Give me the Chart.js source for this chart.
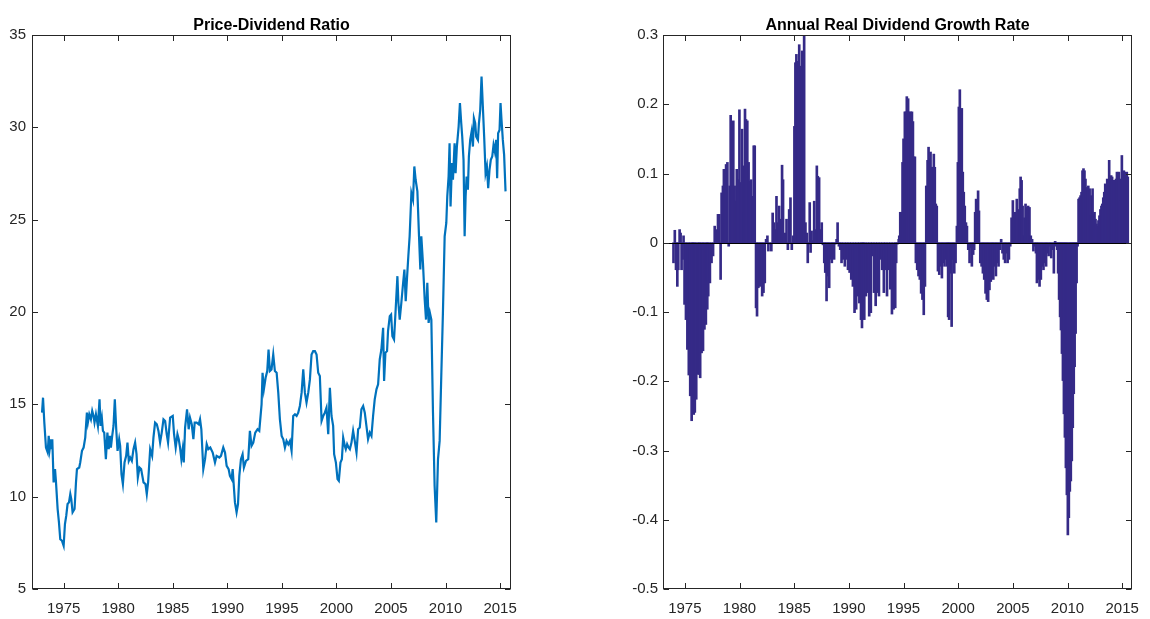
<!DOCTYPE html>
<html><head><meta charset="utf-8">
<script src="https://cdn.jsdelivr.net/npm/chart.js@4.4.1/dist/chart.umd.min.js"></script>
<style>
html,body{margin:0;padding:0;background:#fff;width:1150px;height:619px;overflow:hidden}
canvas{position:absolute;top:0}
#c1{left:0}
#c2{left:575px}
</style></head><body>
<canvas id="c1" width="575" height="619"></canvas>
<canvas id="c2" width="575" height="619"></canvas>
<script>
// ---------- DATA ----------
const pdTitle = 'Price-Dividend Ratio';
const growthTitle = 'Annual Real Dividend Growth Rate';
const yearTicks = [1975, 1980, 1985, 1990, 1995, 2000, 2005, 2010, 2015];
const pdTicks = [5, 10, 15, 20, 25, 30, 35];
const growthTicks = [-0.5, -0.4, -0.3, -0.2, -0.1, 0, 0.1, 0.2, 0.3];

const pdYears = [
1973.02,1973.11,1973.23,1973.38,1973.54,1973.63,1973.72,1973.84,1973.90,1973.96,
1974.08,1974.21,1974.30,1974.45,1974.57,1974.69,1974.85,1975.00,1975.12,1975.24,
1975.36,1975.49,1975.61,1975.70,1975.82,1976.00,1976.13,1976.22,1976.43,1976.52,
1976.68,1976.83,1976.98,1977.13,1977.22,1977.35,1977.50,1977.62,1977.74,1977.83,
1977.96,1978.14,1978.29,1978.38,1978.50,1978.60,1978.72,1978.87,1979.01,1979.13,
1979.24,1979.33,1979.45,1979.57,1979.69,1979.82,1979.94,1980.09,1980.18,1980.30,
1980.43,1980.58,1980.73,1980.85,1980.97,1981.10,1981.25,1981.40,1981.55,1981.68,
1981.80,1981.95,1982.10,1982.32,1982.50,1982.62,1982.74,1982.93,1983.11,1983.23,
1983.38,1983.54,1983.69,1983.84,1983.99,1984.15,1984.30,1984.45,1984.57,1984.76,
1985.00,1985.12,1985.27,1985.43,1985.55,1985.67,1985.79,1985.91,1986.01,1986.13,
1986.31,1986.46,1986.58,1986.74,1986.89,1987.01,1987.19,1987.38,1987.50,1987.62,
1987.80,1987.96,1988.11,1988.26,1988.44,1988.66,1988.87,1989.02,1989.27,1989.42,
1989.63,1989.79,1989.94,1990.12,1990.24,1990.40,1990.49,1990.70,1990.85,1990.98,
1991.10,1991.25,1991.40,1991.52,1991.71,1991.92,1992.07,1992.22,1992.38,1992.56,
1992.77,1992.93,1993.14,1993.23,1993.35,1993.51,1993.66,1993.78,1993.90,1994.05,
1994.21,1994.36,1994.52,1994.67,1994.82,1994.98,1995.13,1995.28,1995.43,1995.59,
1995.74,1995.89,1996.04,1996.20,1996.35,1996.50,1996.65,1996.81,1996.96,1997.11,
1997.26,1997.42,1997.57,1997.72,1997.87,1998.03,1998.18,1998.33,1998.48,1998.64,
1998.79,1998.94,1999.09,1999.25,1999.40,1999.55,1999.70,1999.79,1999.95,2000.10,
2000.22,2000.37,2000.50,2000.62,2000.77,2000.86,2000.98,2001.11,2001.23,2001.38,
2001.53,2001.68,2001.84,2001.99,2002.14,2002.29,2002.45,2002.60,2002.75,2002.90,
2003.06,2003.21,2003.36,2003.51,2003.67,2003.82,2003.97,2004.12,2004.28,2004.37,
2004.49,2004.64,2004.73,2004.89,2005.01,2005.13,2005.28,2005.43,2005.59,2005.68,
2005.80,2005.95,2006.10,2006.23,2006.35,2006.47,2006.59,2006.71,2006.87,2007.02,
2007.14,2007.26,2007.42,2007.57,2007.69,2007.78,2007.93,2008.09,2008.21,2008.33,
2008.45,2008.57,2008.70,2008.85,2009.00,2009.15,2009.31,2009.46,2009.61,2009.76,
2009.92,2010.07,2010.16,2010.28,2010.37,2010.46,2010.59,2010.68,2010.83,2010.92,
2011.04,2011.20,2011.32,2011.44,2011.53,2011.65,2011.75,2011.84,2011.93,2012.05,
2012.14,2012.26,2012.39,2012.51,2012.60,2012.72,2012.81,2012.97,2013.06,2013.18,
2013.30,2013.42,2013.54,2013.67,2013.79,2013.91,2014.03,2014.15,2014.28,2014.40,
2014.52,2014.64,2014.73,2014.82,2014.95,2015.04,2015.13,2015.25,2015.37,2015.50
];
const pdValues = [
14.55,15.36,14.01,12.66,12.39,13.29,12.57,13.11,12.57,13.11,
10.77,11.49,10.77,9.33,8.61,7.70,7.61,7.34,8.52,8.97,
9.60,9.69,10.14,9.87,9.15,9.33,10.77,11.49,11.58,11.85,
12.48,12.66,13.20,14.55,14.01,14.46,14.19,14.64,14.37,14.01,
14.46,13.83,15.27,13.83,14.28,13.56,13.47,12.03,13.47,12.57,
13.29,12.66,13.29,13.83,15.27,13.65,12.48,13.11,12.75,11.22,
10.68,11.85,12.21,12.93,11.94,12.12,11.94,12.57,12.93,12.30,
11.04,11.58,11.49,10.77,10.68,10.14,10.77,12.57,12.21,13.20,
14.01,13.92,13.56,12.93,13.47,14.19,14.10,13.38,12.93,14.28,
14.37,13.38,12.66,13.38,13.11,12.66,12.03,12.57,11.85,13.74,
14.73,13.65,14.28,13.92,13.11,14.01,14.01,13.92,14.19,13.65,
11.49,12.03,12.84,12.57,12.66,12.39,11.85,12.21,12.12,12.21,
12.66,12.39,11.67,11.49,11.13,10.95,11.49,9.69,9.15,9.60,
11.13,12.03,12.30,11.58,11.94,12.03,13.56,12.75,12.93,13.47,
13.65,13.56,15.00,16.71,15.81,16.44,16.80,17.97,16.80,16.89,
17.70,16.80,16.71,15.63,14.19,13.29,13.11,12.66,13.02,12.84,
13.02,12.48,14.37,14.46,14.37,14.55,14.91,15.63,16.89,15.63,
15.09,15.63,16.35,17.70,17.88,17.88,17.70,16.71,16.53,14.10,
14.37,14.55,14.82,13.38,15.90,14.37,13.83,12.30,11.85,10.95,
10.86,11.85,12.03,13.20,12.75,12.57,12.84,12.66,12.57,12.93,
13.56,13.02,12.39,13.65,13.74,14.73,14.91,14.55,13.83,13.11,
13.47,13.29,14.37,15.27,15.81,16.08,17.43,17.97,19.14,16.26,
17.79,17.88,18.96,19.77,19.86,18.69,18.51,20.14,21.94,20.50,
19.59,20.50,21.49,22.30,20.59,21.85,23.02,24.10,26.44,26.08,
27.88,27.16,26.53,24.10,22.30,24.10,22.66,20.68,19.59,21.58,
19.41,19.95,19.59,14.55,10.58,8.60,12.03,13.02,16.53,19.95,
24.10,24.82,26.26,27.34,29.14,25.72,28.06,27.16,29.14,27.52,
28.96,30.04,31.31,30.22,29.50,28.24,24.10,26.26,27.34,26.62,
28.42,29.32,29.77,28.96,30.49,30.22,29.50,29.32,30.22,30.95,
32.75,31.13,29.50,27.52,27.88,26.71,27.70,28.24,28.42,29.05,
28.69,29.32,27.25,29.68,29.86,31.31,30.41,29.32,28.51,26.53
];

const growthYears = [
1973.96,1974.08,1974.19,1974.31,1974.40,1974.52,1974.61,1974.70,1974.79,1974.88,
1974.97,1975.10,1975.23,1975.36,1975.49,1975.62,1975.71,1975.81,1975.91,1976.04,
1976.17,1976.30,1976.40,1976.53,1976.66,1976.79,1976.92,1977.05,1977.14,1977.29,
1977.44,1977.58,1977.73,1977.88,1978.03,1978.15,1978.27,1978.36,1978.48,1978.57,
1978.68,1978.77,1978.89,1979.01,1979.10,1979.19,1979.31,1979.43,1979.55,1979.67,
1979.75,1979.87,1979.99,1980.11,1980.23,1980.35,1980.41,1980.50,1980.59,1980.71,
1980.83,1980.94,1981.06,1981.18,1981.30,1981.39,1981.51,1981.60,1981.72,1981.84,
1981.95,1982.07,1982.19,1982.31,1982.43,1982.55,1982.64,1982.76,1982.91,1983.03,
1983.15,1983.26,1983.38,1983.50,1983.62,1983.74,1983.89,1983.98,1984.07,1984.19,
1984.30,1984.42,1984.54,1984.66,1984.78,1984.90,1985.02,1985.11,1985.20,1985.29,
1985.37,1985.46,1985.55,1985.64,1985.73,1985.82,1985.91,1986.03,1986.15,1986.24,
1986.33,1986.42,1986.50,1986.59,1986.71,1986.83,1986.95,1987.07,1987.16,1987.28,
1987.40,1987.52,1987.63,1987.75,1987.84,1987.96,1988.08,1988.20,1988.32,1988.44,
1988.53,1988.65,1988.76,1988.88,1988.97,1989.09,1989.21,1989.33,1989.48,1989.63,
1989.78,1989.92,1990.07,1990.22,1990.37,1990.52,1990.67,1990.82,1990.96,1991.11,
1991.20,1991.32,1991.41,1991.56,1991.71,1991.86,1992.01,1992.15,1992.30,1992.45,
1992.60,1992.75,1992.90,1993.05,1993.20,1993.34,1993.49,1993.64,1993.79,1993.94,
1994.09,1994.24,1994.33,1994.44,1994.56,1994.61,1994.70,1994.82,1994.91,1995.00,
1995.12,1995.21,1995.30,1995.42,1995.51,1995.65,1995.77,1995.86,1995.95,1996.04,
1996.13,1996.25,1996.37,1996.49,1996.61,1996.73,1996.85,1996.96,1997.08,1997.20,
1997.29,1997.38,1997.47,1997.56,1997.68,1997.77,1997.86,1997.95,1998.04,1998.15,
1998.27,1998.39,1998.51,1998.63,1998.75,1998.87,1998.99,1999.08,1999.17,1999.29,
1999.40,1999.52,1999.64,1999.76,1999.88,1999.97,2000.06,2000.15,2000.24,2000.33,
2000.42,2000.51,2000.60,2000.71,2000.80,2000.92,2001.04,2001.16,2001.25,2001.37,
2001.46,2001.55,2001.64,2001.73,2001.82,2001.90,2002.02,2002.14,2002.26,2002.38,
2002.50,2002.62,2002.74,2002.86,2002.98,2003.10,2003.21,2003.33,2003.45,2003.57,
2003.69,2003.81,2003.93,2004.05,2004.17,2004.29,2004.40,2004.52,2004.64,2004.76,
2004.88,2005.00,2005.09,2005.18,2005.27,2005.36,2005.45,2005.54,2005.63,2005.71,
2005.80,2005.89,2005.98,2006.07,2006.16,2006.28,2006.40,2006.52,2006.64,2006.76,
2006.88,2006.99,2007.11,2007.20,2007.32,2007.44,2007.56,2007.68,2007.80,2007.92,
2008.04,2008.15,2008.27,2008.39,2008.51,2008.63,2008.75,2008.87,2008.96,2009.05,
2009.14,2009.23,2009.32,2009.40,2009.49,2009.58,2009.67,2009.76,2009.85,2009.94,
2010.03,2010.12,2010.21,2010.30,2010.39,2010.48,2010.57,2010.65,2010.74,2010.83,
2010.92,2011.01,2011.10,2011.19,2011.28,2011.37,2011.46,2011.55,2011.64,2011.73,
2011.82,2011.90,2012.02,2012.11,2012.20,2012.29,2012.38,2012.47,2012.56,2012.65,
2012.74,2012.83,2012.92,2013.01,2013.10,2013.18,2013.27,2013.36,2013.45,2013.54,
2013.63,2013.72,2013.81,2013.90,2013.99,2014.08,2014.17,2014.26,2014.35,2014.43,
2014.52,2014.61,2014.70,2014.79,2014.88,2014.97,2015.06,2015.15,2015.24,2015.33,
2015.42,2015.51
];
const growthValues = [
-0.029,0.018,-0.039,-0.063,-0.039,0.019,0.014,-0.039,-0.024,0.010,
-0.089,-0.111,-0.154,-0.191,-0.221,-0.257,-0.233,-0.248,-0.245,-0.226,
-0.190,-0.190,-0.195,-0.159,-0.156,-0.125,-0.118,-0.096,-0.077,-0.058,
-0.029,-0.019,0.024,0.019,0.041,0.041,-0.053,0.072,0.082,0.106,
0.082,0.113,0.116,-0.005,0.082,0.184,0.082,0.176,0.082,0.060,
0.106,0.091,0.192,0.087,0.164,0.111,0.043,0.193,0.178,0.176,
0.116,0.089,0.091,0.067,0.140,0.140,-0.094,-0.106,-0.065,-0.063,
-0.051,-0.077,-0.072,-0.058,0.005,0.010,-0.012,-0.002,-0.012,0.043,
0.029,0.019,0.067,0.029,0.053,0.034,0.112,0.091,0.007,0.014,
0.034,-0.010,0.048,0.065,-0.010,0.010,0.168,0.260,0.272,0.212,
0.262,0.286,0.241,0.255,0.277,0.270,0.300,0.029,0.014,-0.029,
-0.002,0.058,-0.014,0.017,0.003,0.060,0.019,0.111,0.096,0.094,
0.019,0.029,-0.003,-0.029,-0.043,-0.084,-0.048,-0.065,-0.024,-0.029,
-0.019,-0.024,-0.002,0.005,0.029,-0.005,-0.010,-0.029,-0.024,-0.034,
-0.024,-0.039,-0.043,-0.053,-0.063,-0.101,-0.096,-0.077,-0.087,-0.111,
-0.123,-0.101,-0.111,-0.077,-0.072,-0.106,-0.101,-0.019,-0.072,-0.091,
-0.072,-0.077,-0.024,-0.039,-0.072,-0.039,-0.077,-0.039,-0.067,-0.103,
-0.096,-0.094,-0.029,-0.002,0.005,0.010,0.044,0.044,0.116,0.150,
0.189,0.189,0.211,0.208,0.189,0.189,0.189,0.175,0.124,0.124,
-0.029,-0.039,-0.048,-0.053,-0.073,-0.082,-0.104,-0.063,0.082,0.119,
0.138,0.121,0.131,0.109,0.109,0.128,0.109,0.056,0.053,-0.041,
-0.046,-0.034,-0.051,-0.029,-0.034,-0.024,-0.034,-0.107,-0.111,-0.044,
-0.121,-0.024,-0.044,-0.029,0.024,0.116,0.196,0.221,0.191,0.194,
0.102,0.073,0.053,0.029,0.024,-0.010,-0.029,-0.007,-0.034,-0.017,
-0.010,0.044,0.063,0.041,0.075,0.046,-0.029,-0.034,-0.044,-0.053,
-0.073,-0.082,-0.085,-0.068,-0.056,-0.044,-0.053,-0.034,-0.048,-0.029,
-0.034,-0.010,0.005,-0.015,-0.024,-0.029,-0.015,-0.029,-0.024,-0.005,
0.036,0.061,0.036,0.044,0.034,0.063,0.048,0.039,0.078,0.095,
0.090,0.053,0.010,0.036,0.056,0.051,0.053,0.051,0.010,0.005,
-0.012,-0.005,-0.015,-0.058,-0.053,-0.063,-0.053,-0.034,-0.039,-0.029,
-0.034,-0.015,-0.019,-0.005,-0.022,-0.010,-0.044,0.002,-0.005,-0.010,
-0.044,-0.082,-0.107,-0.126,-0.160,-0.199,-0.247,-0.281,-0.325,-0.364,
-0.422,-0.397,-0.359,-0.344,-0.315,-0.267,-0.218,-0.179,-0.131,-0.058,
-0.005,0.063,0.065,0.068,0.073,0.104,0.107,0.104,0.092,0.078,
0.080,0.082,0.078,0.039,0.068,0.078,0.041,0.044,0.034,0.027,
0.024,0.032,0.039,0.048,0.053,0.056,0.065,0.073,0.085,0.082,
0.092,0.082,0.119,0.092,0.097,0.095,0.090,0.090,0.090,0.092,
0.102,0.095,0.102,0.061,0.092,0.126,0.102,0.104,0.102,0.099,
0.102,0.095
];

// ---------- STYLE ----------
const FONT = '"Liberation Sans Narrow", "Liberation Sans", Arial, sans-serif';
const AXIS_COLOR = '#262626';

const matlabAxes = {
  id: 'matlabAxes',
  afterDatasetsDraw(chart, args, opts) {
    const { ctx, chartArea: a, scales: { x, y } } = chart;
    ctx.save();
    if (opts.baseline) {
      const y0 = Math.round(y.getPixelForValue(0)) + 0.5;
      ctx.strokeStyle = '#000';
      ctx.lineWidth = 1;
      ctx.beginPath(); ctx.moveTo(a.left, y0); ctx.lineTo(a.right, y0); ctx.stroke();
    }
    const L = Math.round(a.left) + 0.5, R = Math.round(a.right) - 0.5;
    const T = Math.round(a.top) + 0.5, B = Math.round(a.bottom) - 0.5;
    ctx.strokeStyle = AXIS_COLOR;
    ctx.lineWidth = 1;
    ctx.strokeRect(L, T, R - L, B - T);
    const tl = 5.5;
    ctx.beginPath();
    x.ticks.forEach(t => {
      const px = Math.round(x.getPixelForValue(t.value)) + 0.5;
      ctx.moveTo(px, B); ctx.lineTo(px, B - tl);
      ctx.moveTo(px, T); ctx.lineTo(px, T + tl);
    });
    y.ticks.forEach(t => {
      const py = Math.round(y.getPixelForValue(t.value)) + 0.5;
      ctx.moveTo(L, py); ctx.lineTo(L + tl, py);
      ctx.moveTo(R, py); ctx.lineTo(R - tl, py);
    });
    ctx.stroke();
    ctx.fillStyle = '#000';
    ctx.font = 'bold 16px ' + FONT;
    ctx.textAlign = 'center';
    ctx.textBaseline = 'alphabetic';
    ctx.fillText(opts.title, (a.left + a.right) / 2, 30);
    ctx.restore();
  }
};

function tickFont() { return { family: FONT, size: 15 }; }

function xScale(min, max) {
  return {
    type: 'linear', min, max, offset: false,
    afterBuildTicks: s => { s.ticks = yearTicks.map(v => ({ value: v })); },
    afterFit: s => { s.height = 30; },
    grid: { display: false, drawTicks: false },
    border: { display: false },
    ticks: { padding: 11, font: tickFont(), color: AXIS_COLOR, maxRotation: 0, autoSkip: false,
             callback: v => String(v) }
  };
}
function yScale(min, max, ticksArr, width, pad) {
  return {
    type: 'linear', min, max,
    afterBuildTicks: s => { s.ticks = ticksArr.map(v => ({ value: v })); },
    afterFit: s => { s.width = width; },
    grid: { display: false, drawTicks: false },
    border: { display: false },
    ticks: { padding: pad, font: tickFont(), color: AXIS_COLOR, autoSkip: false,
             callback: v => { const r = Math.round(v * 10) / 10; return r === 0 ? '0' : String(r); } }
  };
}

new Chart(document.getElementById('c1'), {
  type: 'line',
  data: { datasets: [{
    data: pdYears.map((x, i) => ({ x, y: pdValues[i] })),
    borderColor: '#0072BD', borderWidth: 2.2, pointRadius: 0, tension: 0, fill: false
  }] },
  options: {
    responsive: false, animation: false, devicePixelRatio: 1,
    layout: { padding: { left: 0, right: 64, top: 35, bottom: 0 } },
    plugins: { legend: { display: false }, tooltip: { enabled: false },
               matlabAxes: { title: pdTitle, baseline: false } },
    scales: { x: xScale(1972.1, 2016.0), y: yScale(5, 35, pdTicks, 32, 6) }
  },
  plugins: [matlabAxes]
});

new Chart(document.getElementById('c2'), {
  type: 'bar',
  data: { datasets: [{
    data: growthYears.map((x, i) => ({ x, y: growthValues[i] })),
    backgroundColor: '#352A87', borderWidth: 0, barThickness: 2
  }] },
  options: {
    responsive: false, animation: false, devicePixelRatio: 1,
    layout: { padding: { left: 48, right: 6, top: 35, bottom: 0 } },
    plugins: { legend: { display: false }, tooltip: { enabled: false },
               matlabAxes: { title: growthTitle, baseline: true } },
    scales: { x: xScale(1973.0, 2015.9), y: yScale(-0.5, 0.3, growthTicks, 40, 5) }
  },
  plugins: [matlabAxes]
});
</script>
</body></html>
